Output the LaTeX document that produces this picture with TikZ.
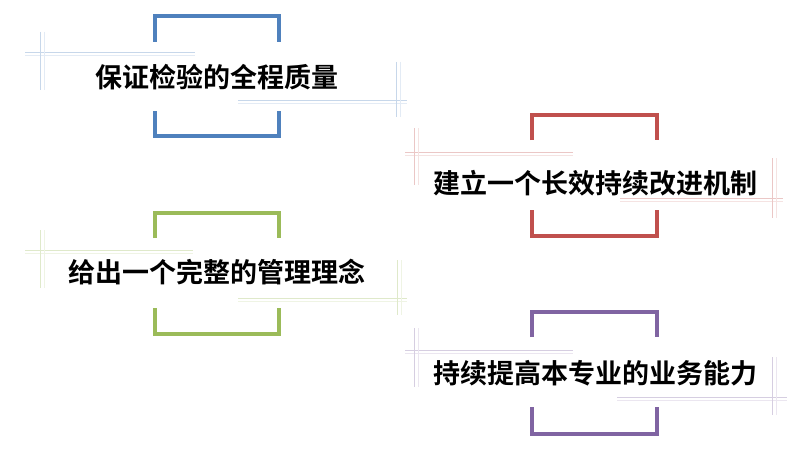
\documentclass[tikz,border=0pt]{standalone}
\usepackage{fontspec}
\newfontfamily\cjk{Noto Sans CJK SC}[UprightFont={* Bold}]
\definecolor{cblue}{HTML}{4F81BD}
\definecolor{cred}{HTML}{C0504D}
\definecolor{cgreen}{HTML}{9BBB59}
\definecolor{cpurple}{HTML}{8064A2}
\tikzset{
  bracket/.style={line width=4pt, line cap=butt, line join=miter},
  hairA/.style={line width=0.9pt},
  hairB/.style={line width=0.7pt},
  label/.style={inner sep=0pt, font=\cjk\fontsize{27}{31}\selectfont, text=black}
}
% crosshair: #1 colour, #2 x1, #3 x2, #4 y (horizontal), #5 x (vertical), #6 y1, #7 y2
\newcommand{\hairmark}[7]{%
  \draw[hairA, #1!32] (#2,#4) -- (#3,#4);
  \draw[hairB, #1!16] (#2,#4+3) -- (#3,#4+3);
  \draw[hairA, #1!32] (#5,#6) -- (#5,#7);
  \draw[hairB, #1!16] (#5+4,#6) -- (#5+4,#7);
}
\begin{document}
\begin{tikzpicture}[x=1pt,y=-1pt]
\useasboundingbox[fill=white] (0,0) rectangle (800,460);

% ---- block 1 (blue)
\hairmark{cblue}{25}{195}{52}{40}{32}{90}
\hairmark{cblue}{238}{407}{100}{396}{62}{117}
\draw[bracket, cblue] (155,42) -- (155,16) -- (279,16) -- (279,42);
\draw[bracket, cblue] (155,111) -- (155,136) -- (279,136) -- (279,111);
\node[label] (t1) at (217,77) {保证检验的全程质量};

% ---- block 2 (red)
\hairmark{cred}{405}{573}{152}{414}{128}{185}
\hairmark{cred}{620}{783}{198}{772}{158}{218}
\draw[bracket, cred] (532,140) -- (532,115) -- (657,115) -- (657,140);
\draw[bracket, cred] (532,210) -- (532,236) -- (657,236) -- (657,210);
\node[label] (t2) at (595,183) {建立一个长效持续改进机制};

% ---- block 3 (green)
\hairmark{cgreen}{25}{193}{250}{40}{230}{288}
\hairmark{cgreen}{238}{407}{298}{397}{260}{315}
\draw[bracket, cgreen] (155,238) -- (155,213) -- (279,213) -- (279,238);
\draw[bracket, cgreen] (155,308) -- (155,334) -- (279,334) -- (279,308);
\node[label] (t3) at (217,272) {给出一个完整的管理理念};

% ---- block 4 (purple)
\hairmark{cpurple}{405}{573}{350}{414}{328}{387}
\hairmark{cpurple}{617}{787}{397}{772}{357}{415}
\draw[bracket, cpurple] (532,337) -- (532,312) -- (657,312) -- (657,337);
\draw[bracket, cpurple] (532,407) -- (532,434) -- (657,434) -- (657,407);
\node[label] (t4) at (595,373) {持续提高本专业的业务能力};
\end{tikzpicture}
\end{document}
